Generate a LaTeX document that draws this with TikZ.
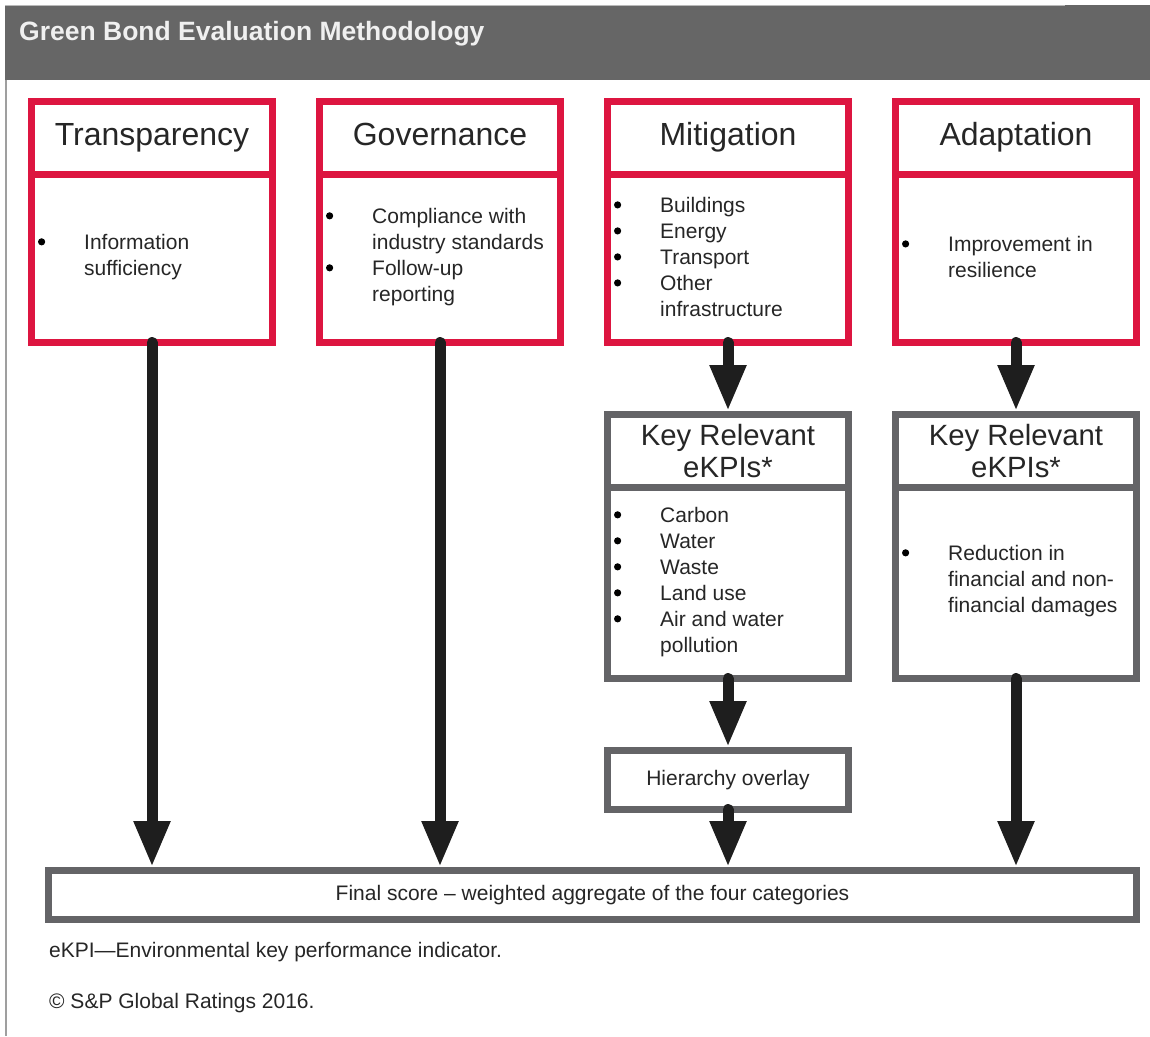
\documentclass[tikz,border=0pt]{standalone}
\usepackage{fontspec}
\setmainfont{Liberation Sans}
\usetikzlibrary{arrows.meta,calc}

\definecolor{brandred}{HTML}{DD1540}
\definecolor{boxgray}{HTML}{646467}
\definecolor{headgray}{HTML}{666666}
\definecolor{txtdark}{HTML}{262626}
\definecolor{arrowblack}{HTML}{1E1E1E}

% bullet hanging to the left of an item
\newcommand{\bl}{\llap{\raisebox{4pt}{\tikz\fill[black] (0,0) circle[radius=3.6pt];}\hspace{39pt}}}

\begin{document}
\begin{tikzpicture}[x=1pt,y=-1pt,
  catbox/.style={draw=brandred, line width=7pt, minimum width=241pt, inner sep=0pt, fill=white},
  kpibox/.style={draw=boxgray, line width=7pt, minimum width=241pt, inner sep=0pt, fill=white},
  cattitle/.style={font=\fontsize{32}{34}\selectfont, text=txtdark, text height=22pt, text depth=6pt},
  kpititle/.style={font=\fontsize{29.3}{32}\selectfont, text=txtdark, align=center},
  bodytext/.style={font=\fontsize{21}{26}\selectfont, align=left, inner sep=0pt, text=txtdark, anchor=west},
  flow/.style={draw=arrowblack, line width=11pt, line cap=round, -{Triangle[width=34pt,length=46pt]}},
]
\useasboundingbox (0,0) rectangle (1150,1036);

% heading band and frame line
\fill[headgray] (5,5) rectangle (1150,80);
\draw[gray!55, line width=1.5pt] (5,5.5) -- (1065,5.5);
\draw[gray!75, line width=1.5pt] (6,80) -- (6,1036);
\node[anchor=west, inner sep=0pt, font=\bfseries\fontsize{26.5}{28}\selectfont, text=white!94!black]
  (heading) at (19,34) {Green Bond Evaluation Methodology};

% four category boxes: title part and body part
\node[catbox, cattitle, minimum height=72.5pt] (th) at (152,137.75) {Transparency};
\node[catbox, minimum height=168.5pt] (tb) at (152,258.25) {};
\node[bodytext] (tt) at (84,257) {\bl Information\\ sufficiency};

\node[catbox, cattitle, minimum height=72.5pt] (gh) at (440,137.75) {Governance};
\node[catbox, minimum height=168.5pt] (gb) at (440,258.25) {};
\node[bodytext] (gt) at (372,257) {\bl Compliance with\\ industry standards\\ \bl Follow-up\\ reporting};

\node[catbox, cattitle, minimum height=72.5pt] (mh) at (728,137.75) {Mitigation};
\node[catbox, minimum height=168.5pt] (mb) at (728,258.25) {};
\node[bodytext] (mt) at (660,257) {\bl Buildings\\ \bl Energy\\ \bl Transport\\ \bl Other\\ infrastructure};

\node[catbox, cattitle, minimum height=72.5pt] (ah) at (1016,137.75) {Adaptation};
\node[catbox, minimum height=168.5pt] (ab) at (1016,258.25) {};
\node[bodytext] (at) at (948,257) {\bl Improvement in\\ resilience};

% key relevant eKPI boxes
\node[kpibox, kpititle, minimum height=72.5pt] (kmh) at (728,450.75) {Key Relevant\\ eKPIs*};
\node[kpibox, minimum height=191.5pt] (kmb) at (728,582.75) {};
\node[bodytext] (kmt) at (660,582) {\bl Carbon\\ \bl Water\\ \bl Waste\\ \bl Land use\\ \bl Air and water\\ pollution};

\node[kpibox, kpititle, minimum height=72.5pt] (kah) at (1016,450.75) {Key Relevant\\ eKPIs*};
\node[kpibox, minimum height=191.5pt] (kab) at (1016,582.75) {};
\node[bodytext] (kat) at (948,581) {\bl Reduction in\\ financial and non-\\ financial damages};

% hierarchy overlay and final score
\node[kpibox, minimum height=59pt, font=\fontsize{21}{26}\selectfont, text=txtdark] (hier) at (728,780) {Hierarchy overlay};
\node[kpibox, minimum width=1088pt, minimum height=49pt, font=\fontsize{21}{26}\selectfont, text=txtdark] (final) at (592.5,895)
  {Final score -- weighted aggregate of the four categories};

% flow arrows
\draw[flow] ([yshift=3.5pt]tb.south) -- (tb.south |- final.north);
\draw[flow] ([yshift=3.5pt]gb.south) -- (gb.south |- final.north);
\draw[flow] ([yshift=3.5pt]mb.south) -- (kmh.north);
\draw[flow] ([yshift=3.5pt]kmb.south) -- (hier.north);
\draw[flow] ([yshift=3.5pt]hier.south) -- (hier.south |- final.north);
\draw[flow] ([yshift=3.5pt]ab.south) -- (kah.north);
\draw[flow] ([yshift=3.5pt]kab.south) -- (kab.south |- final.north);

% notes
\node[bodytext] (note1) at (49,952) {eKPI—Environmental key performance indicator.};
\node[bodytext] (note2) at (49,1003) {© S\&P Global Ratings 2016.};
\end{tikzpicture}
\end{document}
